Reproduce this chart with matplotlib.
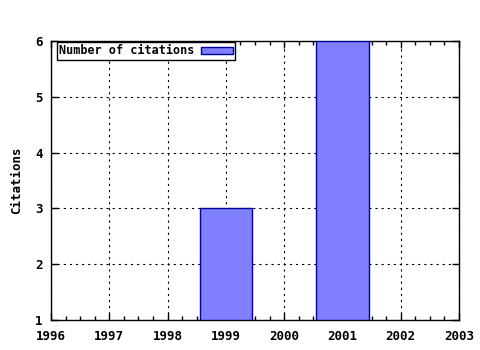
import matplotlib
matplotlib.use('Agg')
import matplotlib.pyplot as plt
from matplotlib.ticker import MultipleLocator

# citation counts per year
years = [1999, 2001]
citations = [3, 6]
xticks = [1996, 1997, 1998, 1999, 2000, 2001, 2002, 2003]
yticks = [1, 2, 3, 4, 5, 6]

plt.rcParams['font.family'] = 'DejaVu Sans Mono'
plt.rcParams['font.weight'] = 'bold'
plt.rcParams['font.size'] = 9

fig = plt.figure(figsize=(4.8, 3.5), dpi=100)
ax = fig.add_axes([51 / 480, 1 - 320 / 350, 408 / 480, 279 / 350])

ax.bar(years, [c - 1 for c in citations], bottom=1, width=0.9,
       color='#8080ff', edgecolor='#00009a', linewidth=1,
       label='Number of citations', zorder=3)

ax.set_xlim(1996, 2003)
ax.set_ylim(1, 6)
ax.set_xticks(xticks)
ax.set_yticks(yticks)
ax.set_xticklabels([str(y) for y in xticks], fontweight='bold')
ax.set_yticklabels([str(y) for y in yticks], fontweight='bold')
ax.xaxis.set_minor_locator(MultipleLocator(0.25))
ax.tick_params(which='both', direction='in', top=True, right=True,
               width=1, color='black', labelsize=9)
ax.tick_params(axis='x', which='major', length=5, pad=7)
ax.tick_params(axis='y', which='major', length=5, pad=6)
ax.tick_params(which='minor', length=3)
ax.grid(True, which='major', linestyle=(0, (2, 3.5)), color='black',
        linewidth=0.8, zorder=1)
for s in ax.spines.values():
    s.set_linewidth(1)

ax.set_ylabel('Citations', fontweight='bold', labelpad=9)

leg = ax.legend(loc='upper left', bbox_to_anchor=(6 / 408, 1 - 1 / 279),
                markerfirst=False, fancybox=False,
                framealpha=1, edgecolor='black', borderpad=0.2,
                handlelength=2.7, handleheight=0.55, handletextpad=0.5,
                borderaxespad=0,
                prop={'family': 'DejaVu Sans Mono', 'weight': 'bold', 'size': 8.5})
leg.get_frame().set_linewidth(1)

fig.savefig('out.png', dpi=100)
